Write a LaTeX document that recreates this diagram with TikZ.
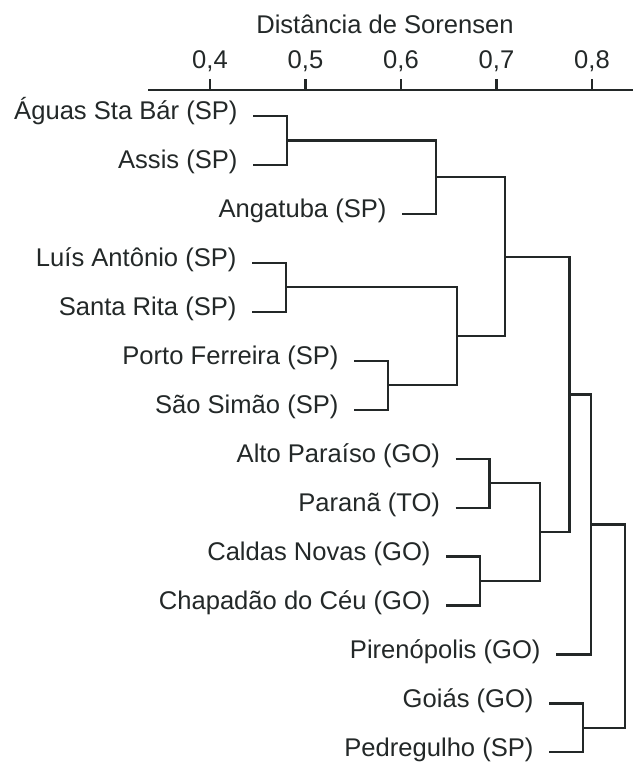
\documentclass[tikz,border=0pt]{standalone}
\usepackage{fontspec}
\setmainfont{Liberation Sans}
\usetikzlibrary{positioning}
\definecolor{linegray}{RGB}{35,40,40}

\begin{document}
\begin{tikzpicture}[
    x=0.25mm, y=-0.25mm,
    font=\fontsize{18.2}{20}\selectfont,
    leafbox/.style={anchor=east, inner xsep=3.8mm, inner ysep=0pt, text height=0.73em, text depth=0.21em, text=linegray},
    ticklabel/.style={anchor=base, inner sep=0pt, text=linegray},
    branch/.style={draw=linegray, line width=0.55mm}
]
\useasboundingbox (0,0) rectangle (640,763);

% Axis
\node[ticklabel] (title) at (385,33) {Distância de Sorensen};
\coordinate (axl) at (148,90);
\coordinate (axr) at (633,90);
\draw[branch] (axl) -- (axr);
\foreach \d in {4,...,8}{
  \coordinate (tick\d) at ({210+95.5*(\d-4)},90);
  \draw[branch] (tick\d) -- ++(0,-11);
  \node[ticklabel] (lab\d) at ({210+95.5*(\d-4)},68) {0,\d};
}

% Leaves
\node[leafbox] (aguas) at (253,116) {Águas Sta Bár (SP)};
\node[leafbox] (assis) at (253,164.95) {Assis (SP)};
\node[leafbox] (angatuba) at (402,213.9) {Angatuba (SP)};
\node[leafbox] (luis) at (252,262.85) {Luís Antônio (SP)};
\node[leafbox] (santarita) at (252,311.8) {Santa Rita (SP)};
\node[leafbox] (porto) at (354,360.75) {Porto Ferreira (SP)};
\node[leafbox] (saosimao) at (354,409.7) {São Simão (SP)};
\node[leafbox] (alto) at (455.5,458.65) {Alto Paraíso (GO)};
\node[leafbox] (parana) at (455.5,507.6) {Paranã (TO)};
\node[leafbox] (caldas) at (446,556.55) {Caldas Novas (GO)};
\node[leafbox] (chapadao) at (446,605.5) {Chapadão do Céu (GO)};
\node[leafbox] (piren) at (556,654.45) {Pirenópolis (GO)};
\node[leafbox] (goias) at (549,703.4) {Goiás (GO)};
\node[leafbox] (pedreg) at (549,752.35) {Pedregulho (SP)};

% Joins
\coordinate (j1) at (287,140.5);
\coordinate (j2) at (436,177.2);
\coordinate (j3) at (286,287.3);
\coordinate (j4) at (388,385.2);
\coordinate (j5) at (457,336.3);
\coordinate (j6) at (504.6,256.75);
\coordinate (j7) at (489.4,483.1);
\coordinate (j8) at (480,581);
\coordinate (j9) at (540,532.05);
\coordinate (j10) at (569.4,394.4);
\coordinate (j11) at (591,524.4);
\coordinate (j12) at (583,727.9);
\coordinate (j13) at (625,626.2);

% Branches
\draw[branch] (aguas.east) -| (j1);
\draw[branch] (assis.east) -| (j1);
\draw[branch] (j1) -| (j2);
\draw[branch] (angatuba.east) -| (j2);

\draw[branch] (luis.east) -| (j3);
\draw[branch] (santarita.east) -| (j3);
\draw[branch] (porto.east) -| (j4);
\draw[branch] (saosimao.east) -| (j4);
\draw[branch] (j3) -| (j5);
\draw[branch] (j4) -| (j5);

\draw[branch] (j2) -| (j6);
\draw[branch] (j5) -| (j6);

\draw[branch] (alto.east) -| (j7);
\draw[branch] (parana.east) -| (j7);
\draw[branch] (caldas.east) -| (j8);
\draw[branch] (chapadao.east) -| (j8);
\draw[branch] (j7) -| (j9);
\draw[branch] (j8) -| (j9);

\draw[branch] (j6) -| (j10);
\draw[branch] (j9) -| (j10);
\draw[branch] (j10) -| (j11);
\draw[branch] (piren.east) -| (j11);

\draw[branch] (goias.east) -| (j12);
\draw[branch] (pedreg.east) -| (j12);
\draw[branch] (j11) -| (j13);
\draw[branch] (j12) -| (j13);

\end{tikzpicture}
\end{document}
